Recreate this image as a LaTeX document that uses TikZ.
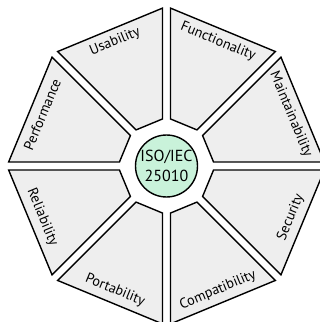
\documentclass[tikz,border=0pt]{standalone}
\usepackage{fontspec}
\setmainfont{PT Sans}
\definecolor{segfill}{HTML}{EEEEEE}
\definecolor{isofill}{HTML}{C9F2DA}
\begin{document}
\begin{tikzpicture}[x=1pt,y=1pt,
  seg/.style={draw=black, line width=1.4pt, fill=segfill, line join=miter},
  lab/.style={font=\fontsize{14.2}{14.2}\selectfont, text=black, transform shape},
  hub/.style={circle, draw=black, line width=1.4pt, fill=isofill, minimum size=62pt, inner sep=0pt, align=center, font=\fontsize{16}{19.5}\selectfont, text=black}]
\useasboundingbox (0,0) rectangle (320,322);
\coordinate (c) at (166.5,156);
\foreach \m/\txt/\rot in {67.5/Functionality/-90, 22.5/Maintainability/-90, -22.5/Security/90, -67.5/Compatibility/90, -112.5/Portability/90, -157.5/Reliability/90, 157.5/Performance/-90, 112.5/Usability/-90} {
  \begin{scope}[shift={(c)}, rotate=\m]
    \draw[seg] (147.4,56.7) -- (147.4,-56.7) -- (45,-14.3) -- (45,14.3) -- cycle;
    \node[lab, rotate=\rot] (n\txt) at (134.5,0) {\txt};
  \end{scope}
}
\node[hub] (iso) at (c) {ISO/IEC\\25010};
\end{tikzpicture}
\end{document}
